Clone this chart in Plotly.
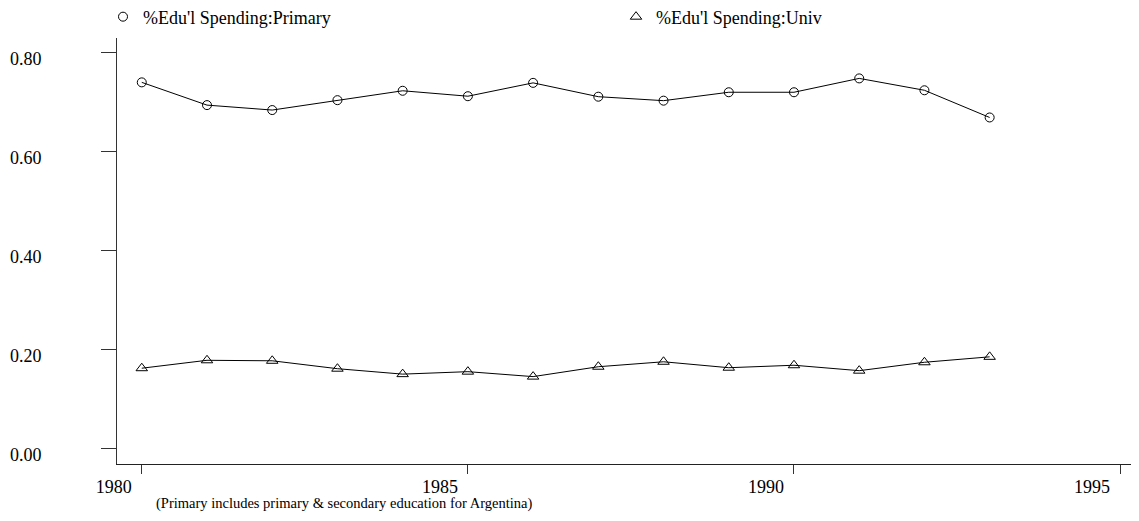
import plotly.graph_objects as go

# data
years = list(range(1980, 1994))
primary = [0.740, 0.694, 0.684, 0.704, 0.723, 0.712, 0.739,
           0.711, 0.703, 0.720, 0.720, 0.748, 0.724, 0.669]
univ = [0.162, 0.178, 0.177, 0.161, 0.150, 0.155, 0.145,
        0.165, 0.175, 0.163, 0.168, 0.157, 0.174, 0.185]
y_ticks = [0.0, 0.2, 0.4, 0.6, 0.8]
x_ticks = [1980, 1985, 1990, 1995]

SERIF = "Liberation Serif"

fig = go.Figure()
series = [
    ("%Edu'l Spending:Primary", primary, "circle-open", 9, "legend"),
    ("%Edu'l Spending:Univ", univ, "triangle-up-open", 10, "legend2"),
]
for name, vals, sym, size, leg in series:
    # connecting line (kept out of the legend, which shows only the marker)
    fig.add_trace(go.Scatter(x=years, y=vals, mode="lines", showlegend=False,
                             line=dict(color="black", width=1), hoverinfo="skip"))
    fig.add_trace(go.Scatter(x=years, y=vals, mode="markers", name=name,
                             marker=dict(symbol=sym, size=size, color="black",
                                         line=dict(width=1)),
                             legend=leg))

# the page body has an 8px margin, so the figure is 8px smaller than the window
fig.update_layout(
    width=1131, height=513,
    margin=dict(l=109, r=0, t=30, b=57, autoexpand=False),
    plot_bgcolor="white", paper_bgcolor="white",
    font=dict(family=SERIF, size=18, color="black"),
    legend=dict(orientation="h", xref="container", yref="container",
                x=0.084, xanchor="left", y=0.9825, yanchor="middle",
                font=dict(size=18), bgcolor="rgba(0,0,0,0)"),
    legend2=dict(orientation="h", xref="container", yref="container",
                 x=0.5376, xanchor="left", y=0.9825, yanchor="middle",
                 font=dict(size=18), bgcolor="rgba(0,0,0,0)"),
    annotations=[dict(text="(Primary includes primary & secondary education for Argentina)",
                      xref="paper", yref="paper", x=0.036, y=0, xanchor="left",
                      yanchor="middle", yshift=-39, showarrow=False,
                      font=dict(size=14.5, family=SERIF))],
)

fig.update_xaxes(range=[1979.62, 1995.29], tickvals=x_ticks, ticks="outside",
                 ticklen=9, tickcolor="#333", showline=True, linecolor="#222",
                 linewidth=1, showgrid=False, zeroline=False, automargin=False,
                 ticklabelshift=-28, ticklabelstandoff=-3)
fig.update_yaxes(range=[-0.0317, 0.8297], tickvals=y_ticks, tickformat=".2f",
                 ticks="outside", ticklen=15, tickcolor="#333", showline=True,
                 linecolor="#333", linewidth=1, showgrid=False, zeroline=False,
                 automargin=False, ticklabelstandoff=56, ticklabelshift=6)

fig.write_html("out.html")
